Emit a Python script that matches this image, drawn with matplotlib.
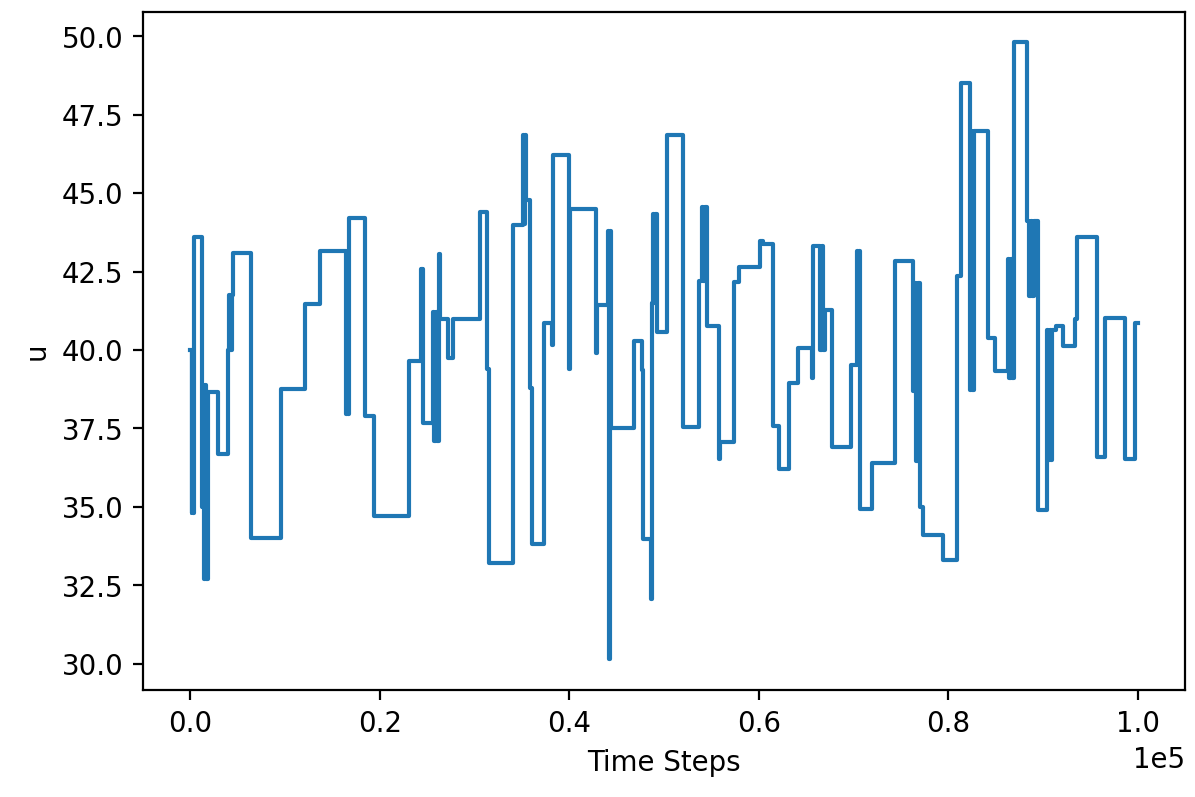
import matplotlib
matplotlib.use("Agg")
import matplotlib.pyplot as plt

# times (in thousands of steps) where u jumps, and the level u holds afterwards
t_k = [0.0, 0.12, 0.2, 0.28, 0.4, 1.2, 1.3, 1.4, 1.55, 1.65, 1.85, 2.95, 3.95, 4.1, 4.2, 4.35, 4.5,
       6.4, 9.6, 12.05, 13.65, 16.45, 16.55, 16.65, 16.72, 18.44, 19.42, 23.1, 24.3, 24.4, 24.5,
       24.6, 25.6, 25.75, 25.9, 26.05, 26.2, 26.4, 27.2, 27.7, 30.6, 31.35, 31.5, 34.1, 35.15,
       35.25, 35.35, 35.45, 35.8, 36.1, 37.3, 38.2, 38.3, 39.97, 40.05, 42.8, 42.95, 44.1, 44.2,
       44.3, 44.4, 46.8, 47.7, 47.8, 48.65, 48.75, 48.85, 48.95, 49.05, 49.3, 50.3, 52.0, 53.67,
       54.0, 54.15, 54.3, 54.55, 55.8, 55.95, 57.36, 57.9, 60.17, 60.5, 61.5, 62.1, 63.2, 64.1,
       65.6, 65.7, 66.5, 66.65, 66.8, 67.0, 67.7, 69.7, 70.4, 70.5, 70.6, 70.7, 72.0, 74.4, 76.3,
       76.5, 76.65, 76.8, 77.0, 77.3, 79.5, 80.9, 81.4, 82.3, 82.45, 82.55, 82.7, 84.2, 84.9,
       86.3, 86.45, 86.6, 86.75, 86.9, 88.3, 88.5, 88.7, 88.9, 89.1, 89.5, 90.4, 90.55, 90.7,
       90.85, 91.0, 91.4, 92.1, 93.36, 93.6, 95.71, 96.52, 98.63, 99.68, 100.0]
u_level = [40.0, 34.8, 40.0, 34.8, 43.6, 35.0, 38.9, 32.7, 38.9, 32.7, 38.65, 36.7, 40.0, 41.75, 40.0, 41.75, 43.1,
           34.0, 38.75, 41.45, 43.15, 37.95, 43.15, 37.95, 44.2, 37.9, 34.7, 39.65, 42.57, 39.65, 42.57,
           37.66, 41.2, 37.1, 41.2, 37.1, 43.05, 41.0, 39.75, 41.0, 44.4, 39.4, 33.2, 43.97, 46.85,
           44.0, 46.85, 44.77, 38.78, 33.81, 40.87, 40.17, 46.2, 39.4, 44.48, 39.9, 41.42, 43.8, 30.15,
           43.8, 37.5, 40.28, 39.37, 33.97, 32.05, 41.5, 44.34, 41.5, 44.34, 40.57, 46.85, 37.55, 42.2,
           44.55, 42.2, 44.55, 40.76, 36.54, 37.07, 42.17, 42.63, 43.48, 43.37, 37.57, 36.22, 38.96, 40.06,
           39.1, 43.32, 40.0, 43.3, 40.0, 41.29, 36.91, 39.53, 43.16, 39.53, 43.16, 34.94, 36.4, 42.84, 38.7,
           42.15, 36.45, 42.15, 35.0, 34.1, 33.3, 42.36, 48.5, 38.73, 46.98, 38.73, 46.98, 40.38, 39.32,
           42.9, 39.1, 42.9, 39.1, 49.8, 44.1, 41.72, 44.1, 41.72, 44.1, 34.9, 40.65, 36.48, 40.65,
           36.48, 40.65, 40.76, 40.12, 41.0, 43.59, 36.6, 41.03, 36.53, 40.85, 40.85]

t = [v * 1000 for v in t_k]

fig = plt.figure(figsize=(6, 4), dpi=199.33)
ax = fig.add_axes([0.1196, 0.1343, 0.8712, 0.8507])
ax.step(t, u_level, where='post', color='#1f77b4', linewidth=1.5)
ax.set_xlabel('Time Steps')
ax.set_ylabel('u')
ax.ticklabel_format(axis='x', style='sci', scilimits=(0, 0))
fig.savefig('out.png', dpi=199.33)
